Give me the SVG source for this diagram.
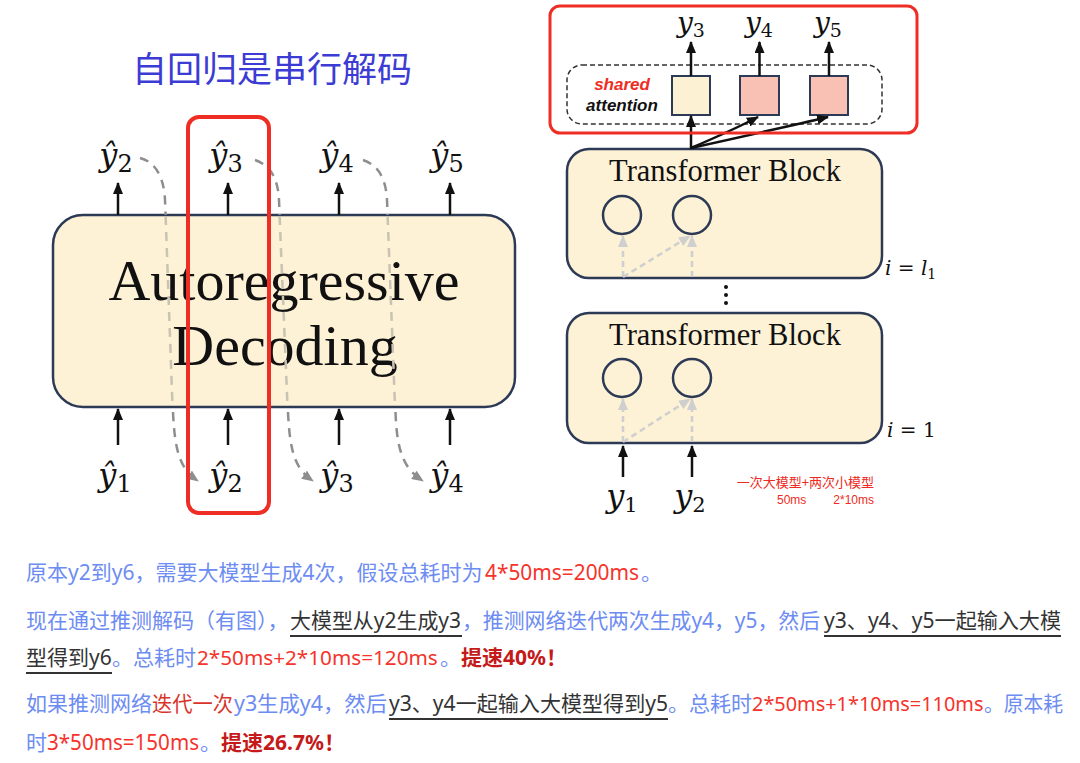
<svg xmlns="http://www.w3.org/2000/svg" width="1080" height="763" viewBox="0 0 1080 763">
<style>
.box{fill:#fdf1d6;stroke:#2d3a56;stroke-width:2.5}
.math{font-family:"DejaVu Serif","Liberation Serif",serif;font-style:italic;fill:#111}
.sub{font-style:normal}
.serif{font-family:"Liberation Serif","DejaVu Serif",serif;fill:#111}
.arr{stroke:#111;stroke-width:2.5;fill:none;marker-end:url(#ah)}
.dashout{stroke:#8e8e8e;stroke-width:2.5;fill:none;stroke-dasharray:9 7}
.dashin{stroke:#c9c3b4;stroke-width:2.5;fill:none;stroke-dasharray:9 7}
.lg{stroke:#cfcfcf;stroke-width:2.5;fill:none;stroke-dasharray:6 4;marker-end:url(#lgh)}
.circ{fill:none;stroke:#2d3a56;stroke-width:2.5}
.sq{stroke:#2d3a56;stroke-width:2}
.t{font-family:"Noto Sans","Noto Sans CJK SC",sans-serif;font-size:21px}
.b{fill:#6d8cf2}.r{fill:#f5332b}.k{fill:#333}.dr{fill:#c41a1a;font-weight:bold}.r2{fill:#d9342b}
.ul{stroke:#333;stroke-width:2}
</style>
<defs>
<marker id="ah" viewBox="0 0 12 10" refX="11" refY="5" markerWidth="12" markerHeight="10" markerUnits="userSpaceOnUse" orient="auto"><path d="M0,0 L12,5 L0,10 z" fill="#111"/></marker>
<marker id="gh" viewBox="0 0 12 10" refX="11" refY="5" markerWidth="12" markerHeight="10" markerUnits="userSpaceOnUse" orient="auto"><path d="M0,0 L12,5 L0,10 z" fill="#8e8e8e"/></marker>
<marker id="lgh" viewBox="0 0 12 10" refX="11" refY="5" markerWidth="12" markerHeight="10" markerUnits="userSpaceOnUse" orient="auto"><path d="M0,0 L12,5 L0,10 z" fill="#cfcfcf"/></marker>
</defs>
<rect width="1080" height="763" fill="#fff"/>

<g id="title"><text x="272" y="82" text-anchor="middle" font-family="Noto Sans CJK SC,sans-serif" font-size="35" fill="#3c3cd4">自回归是串行解码</text></g>

<g id="autoregressive-box">
<rect class="box" x="53" y="215" width="462" height="192" rx="30"/>
<text class="serif" x="284" y="300" text-anchor="middle" font-size="58">Autoregressive</text>
<text class="serif" x="285" y="365" text-anchor="middle" font-size="58">Decoding</text>
</g>

<g id="top-labels" font-size="32">
<text class="math" x="116" y="166" text-anchor="middle">ŷ<tspan class="sub" font-size="24" dy="6">2</tspan></text>
<text class="math" x="226" y="166" text-anchor="middle">ŷ<tspan class="sub" font-size="24" dy="6">3</tspan></text>
<text class="math" x="337" y="166" text-anchor="middle">ŷ<tspan class="sub" font-size="24" dy="6">4</tspan></text>
<text class="math" x="447" y="166" text-anchor="middle">ŷ<tspan class="sub" font-size="24" dy="6">5</tspan></text>
</g>
<g id="bottom-labels" font-size="32">
<text class="math" x="115" y="486" text-anchor="middle">ŷ<tspan class="sub" font-size="24" dy="6">1</tspan></text>
<text class="math" x="226" y="486" text-anchor="middle">ŷ<tspan class="sub" font-size="24" dy="6">2</tspan></text>
<text class="math" x="337" y="486" text-anchor="middle">ŷ<tspan class="sub" font-size="24" dy="6">3</tspan></text>
<text class="math" x="447" y="486" text-anchor="middle">ŷ<tspan class="sub" font-size="24" dy="6">4</tspan></text>
</g>

<g id="block-top">
<rect class="box" x="567" y="149" width="315" height="129" rx="22"/>
<text class="serif" x="725" y="181" text-anchor="middle" font-size="30.5">Transformer Block</text>
<circle class="circ" cx="622" cy="215" r="19"/>
<circle class="circ" cx="692" cy="215" r="19"/>
<text class="math" x="885" y="275" font-size="20">i <tspan class="sub">=</tspan> l<tspan class="sub" font-size="14" dy="4">1</tspan></text>
</g>
<g id="ellipsis" fill="#111"><circle cx="726" cy="287" r="2"/><circle cx="726" cy="295" r="2"/><circle cx="726" cy="303" r="2"/></g>
<g id="block-bottom">
<rect class="box" x="567" y="313" width="315" height="130" rx="22"/>
<text class="serif" x="725" y="345" text-anchor="middle" font-size="30.5">Transformer Block</text>
<circle class="circ" cx="622" cy="378" r="19"/>
<circle class="circ" cx="692" cy="378" r="19"/>
<text class="math" x="887" y="437" font-size="20">i <tspan class="sub">= 1</tspan></text>
</g>

<g id="shared-attention">
<rect x="567" y="65" width="315" height="59" rx="15" fill="none" stroke="#333" stroke-width="1.5" stroke-dasharray="5 3"/>
<text x="622" y="90" text-anchor="middle" font-family="Liberation Sans,sans-serif" font-weight="bold" font-style="italic" font-size="17" fill="#ee2d24">shared</text>
<text x="622" y="111" text-anchor="middle" font-family="Liberation Sans,sans-serif" font-weight="bold" font-style="italic" font-size="17" fill="#111">attention</text>
<rect class="sq" x="672" y="76" width="38" height="39" fill="#fdf1d4"/>
<rect class="sq" x="740" y="76" width="39" height="39" fill="#f8c1b3"/>
<rect class="sq" x="810" y="76" width="38" height="39" fill="#f8c1b3"/>
</g>
<g id="outputs" font-size="28">
<text class="math" x="691" y="32" text-anchor="middle">y<tspan class="sub" font-size="19" dy="5">3</tspan></text>
<text class="math" x="759" y="32" text-anchor="middle">y<tspan class="sub" font-size="19" dy="5">4</tspan></text>
<text class="math" x="828" y="32" text-anchor="middle">y<tspan class="sub" font-size="19" dy="5">5</tspan></text>
</g>
<g id="inputs" font-size="32">
<text class="math" x="622" y="507" text-anchor="middle">y<tspan class="sub" font-size="21" dy="5">1</tspan></text>
<text class="math" x="690" y="507" text-anchor="middle">y<tspan class="sub" font-size="21" dy="5">2</tspan></text>
</g>
<g id="cost-note" fill="#ee2a22">
<text x="874" y="487" text-anchor="end" font-family="Noto Sans CJK SC,sans-serif" font-size="13">一次大模型+两次小模型</text>
<text x="777" y="504" font-family="Liberation Sans,sans-serif" font-size="12">50ms</text>
<text x="874" y="504" text-anchor="end" font-family="Liberation Sans,sans-serif" font-size="12">2*10ms</text>
</g>

<g id="connectors">
<path class="arr" d="M118,215 V183"/><path class="arr" d="M228,215 V183"/><path class="arr" d="M339,215 V183"/><path class="arr" d="M450,215 V183"/>
<path class="arr" d="M118,445 V409"/><path class="arr" d="M228,445 V409"/><path class="arr" d="M339,445 V409"/><path class="arr" d="M450,445 V409"/>
<path class="dashout" d="M140,158 C156,162 164,178 165,200 L165.6,215"/>
<path class="dashin" d="M165.6,216 L172.5,406"/>
<path class="dashout" d="M173,412 C175,455 181,469 198,481" marker-end="url(#gh)"/>
<path class="dashout" d="M255,160 C270,165 278,178 279,200 L279.6,215"/>
<path class="dashin" d="M279.6,216 L287.5,406"/>
<path class="dashout" d="M288,412 C290,455 296,469 313,481" marker-end="url(#gh)"/>
<path class="dashout" d="M363,160 C378,165 386,178 387,200 L387.6,215"/>
<path class="dashin" d="M387.6,216 L395,406"/>
<path class="dashout" d="M395.5,412 C397,455 405,469 423,481" marker-end="url(#gh)"/>
<path class="arr" d="M691,76 V42"/><path class="arr" d="M759.5,76 V42"/><path class="arr" d="M829,76 V42"/>
<path class="arr" d="M691,149 V116" stroke-width="2"/>
<path class="arr" d="M691,148 Q733,130 758,117" stroke-width="2"/>
<path class="arr" d="M691,148 Q790,126 828,117" stroke-width="2"/>
<path class="lg" d="M623,277 V236"/><path class="lg" d="M692,277 V236"/><path class="lg" d="M623,277 L690,236"/>
<path class="lg" d="M623,442 V399"/><path class="lg" d="M692,442 V399"/><path class="lg" d="M623,442 L690,399"/>
<path class="arr" d="M623,477 V446"/><path class="arr" d="M692,477 V446"/>
</g>

<g id="red-highlights" fill="none" stroke="#ee2d24">
<rect x="188" y="117" width="81" height="396" rx="11" stroke-width="4"/>
<rect x="550" y="6" width="367" height="127" rx="10" stroke-width="3"/>
</g>

<g id="explanation" class="t">
<text class="b" x="26" y="580">原本y2到y6，需要大模型生成4次，假设总耗时为</text>
<text class="r" x="485" y="580" textLength="154" lengthAdjust="spacingAndGlyphs">4*50ms=200ms</text>
<text class="b" x="641" y="580">。</text>

<text class="b" x="26" y="628">现在通过推测解码（有图），</text>
<text class="k" x="290" y="628" textLength="171" lengthAdjust="spacingAndGlyphs">大模型从y2生成y3</text>
<text class="b" x="462" y="628" textLength="358" lengthAdjust="spacingAndGlyphs">，推测网络迭代两次生成y4，y5，然后</text>
<text class="k" x="824" y="628" textLength="237" lengthAdjust="spacingAndGlyphs">y3、y4、y5一起输入大模</text>

<text class="k" x="26" y="665">型得到y6</text>
<text class="b" x="112" y="665">。总耗时</text>
<text class="r" x="197" y="665" font-size="20.7">2*50ms+2*10ms=120ms</text>
<text class="b" x="440" y="665">。</text>
<text class="dr" x="461" y="665">提速40%！</text>

<text class="b" x="26" y="711">如果推测网络</text>
<text class="r2" x="152" y="711" textLength="81" lengthAdjust="spacingAndGlyphs">迭代一次</text>
<text class="b" x="234" y="711" textLength="153" lengthAdjust="spacingAndGlyphs">y3生成y4，然后</text>
<text class="k" x="389" y="711" textLength="279" lengthAdjust="spacingAndGlyphs">y3、y4一起输入大模型得到y5</text>
<text class="b" x="668" y="711">。总耗时</text>
<text class="r" x="752" y="711" font-size="19.9">2*50ms+1*10ms=110ms</text>
<text class="b" x="984" y="711" textLength="79" lengthAdjust="spacingAndGlyphs">。原本耗</text>

<text class="b" x="26" y="750">时</text>
<text class="r" x="47" y="750" textLength="152" lengthAdjust="spacingAndGlyphs">3*50ms=150ms</text>
<text class="b" x="200" y="750">。</text>
<text class="dr" x="221" y="750">提速26.7%！</text>

<line class="ul" x1="290" y1="636" x2="462" y2="636"/>
<line class="ul" x1="824" y1="636" x2="1061" y2="636"/>
<line class="ul" x1="26" y1="673" x2="112" y2="673"/>
<line class="ul" x1="389" y1="719" x2="668" y2="719"/>
</g>
</svg>
